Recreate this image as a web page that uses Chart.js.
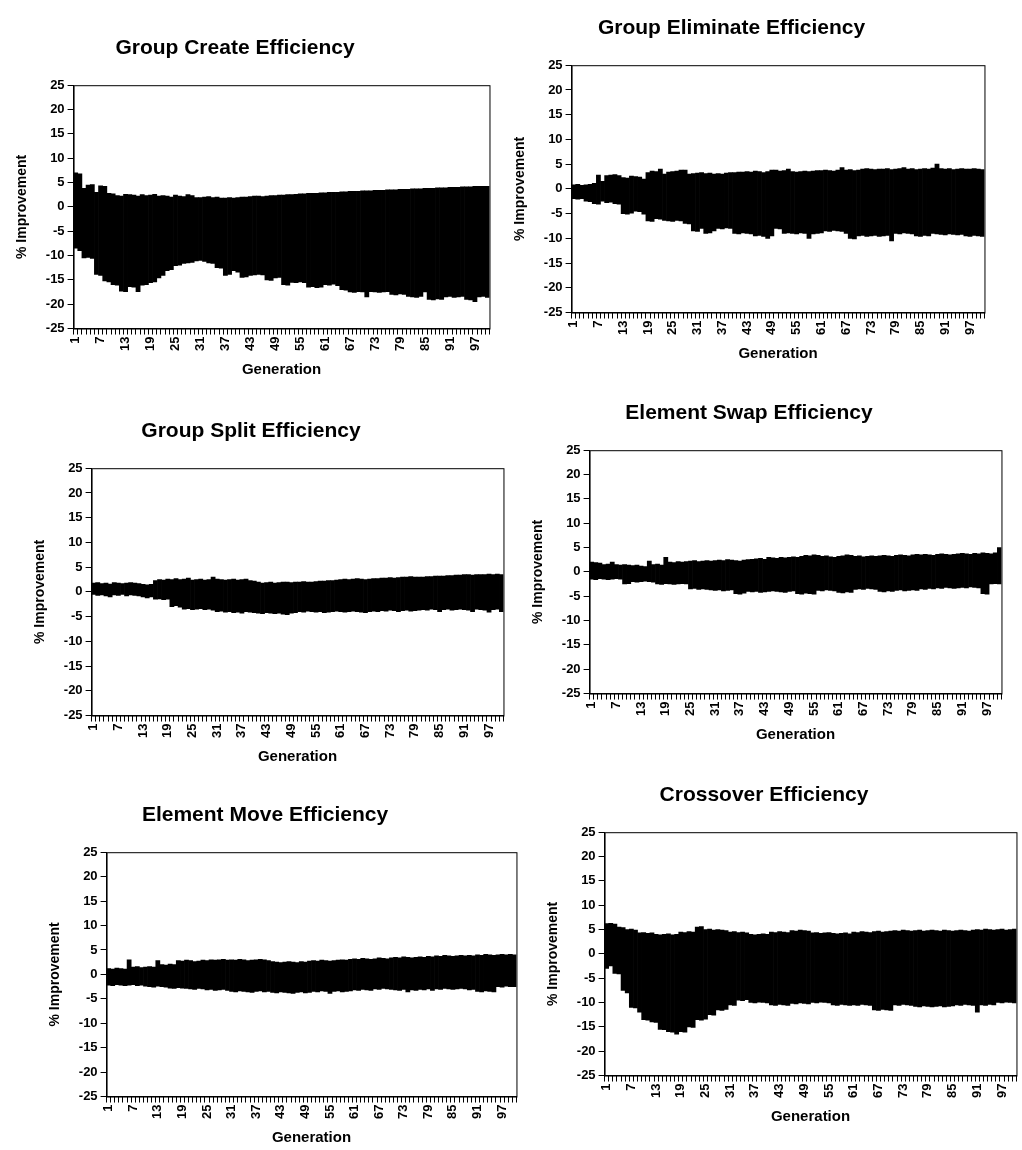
<!DOCTYPE html>
<html>
<head>
<meta charset="utf-8">
<script src="https://cdn.jsdelivr.net/npm/chart.js@4.4.1/dist/chart.umd.min.js"></script>
<style>
  body { margin: 0; background: #fff; width: 1022px; height: 1150px; position: relative; overflow: hidden; }
  .panel { position: absolute; }
</style>
</head>
<body>
<div class="panel" style="left:-35px;top:26px;width:540px;height:366px"><canvas id="c1"></canvas></div>
<div class="panel" style="left:463px;top:6px;width:537px;height:370px"><canvas id="c2"></canvas></div>
<div class="panel" style="left:-17px;top:409px;width:536px;height:370px"><canvas id="c3"></canvas></div>
<div class="panel" style="left:481px;top:391px;width:536px;height:366px"><canvas id="c4"></canvas></div>
<div class="panel" style="left:-2px;top:793px;width:534px;height:367px"><canvas id="c5"></canvas></div>
<div class="panel" style="left:496px;top:773px;width:536px;height:366px"><canvas id="c6"></canvas></div>
<script>
// generations on the x axis
const generations = [
  1,2,3,4,5,6,7,8,9,10,11,12,13,14,15,16,17,18,19,20,
  21,22,23,24,25,26,27,28,29,30,31,32,33,34,35,36,37,38,39,40,
  41,42,43,44,45,46,47,48,49,50,51,52,53,54,55,56,57,58,59,60,
  61,62,63,64,65,66,67,68,69,70,71,72,73,74,75,76,77,78,79,80,
  81,82,83,84,85,86,87,88,89,90,91,92,93,94,95,96,97,98,99,100
];
const xTickLabels = [1,7,13,19,25,31,37,43,49,55,61,67,73,79,85,91,97];
const yTickValues = [-25,-20,-15,-10,-5,0,5,10,15,20,25];

// Group Create
const createHigh = [
  7,6.8,3.8,4.5,4.6,3,4.3,4.2,2.8,2.7,
  2.3,2.2,2.6,2.5,2.4,2.2,2.5,2.3,2.4,2.6,
  2.2,2.3,2.2,2.0,2.4,2.2,2.1,2.5,2.3,1.9,
  1.9,2.0,2.1,1.9,2.0,1.8,1.8,1.9,1.8,1.9,
  2.0,2.0,2.1,2.2,2.2,2.1,2.2,2.3,2.3,2.4,
  2.4,2.5,2.5,2.6,2.7,2.7,2.8,2.8,2.8,2.9,
  2.9,3.0,3.0,3.0,3.1,3.1,3.2,3.2,3.2,3.3,
  3.3,3.3,3.4,3.4,3.4,3.5,3.5,3.5,3.6,3.6,
  3.6,3.7,3.7,3.7,3.8,3.8,3.8,3.9,3.9,3.9,
  4.0,4.0,4.0,4.1,4.1,4.1,4.2,4.2,4.2,4.2
];
const createLow = [
  -8.5,-9,-10.5,-10.4,-10.6,-13.9,-14.1,-15.2,-15.4,-16,
  -16.1,-17.3,-17.4,-16.4,-16.5,-17.4,-16.1,-16.0,-15.6,-15.4,
  -14.6,-14.1,-13.1,-12.9,-12.1,-12.0,-11.6,-11.5,-11.4,-11.1,
  -11.0,-11.2,-11.5,-11.6,-12.5,-12.6,-14.1,-13.9,-13.1,-13.4,
  -14.5,-14.4,-14.1,-14.0,-13.9,-14.0,-15.0,-15.1,-14.6,-14.5,
  -16.0,-16.1,-15.5,-15.6,-15.4,-15.6,-16.5,-16.4,-16.6,-16.5,
  -16.0,-16.1,-15.9,-16.2,-17.0,-17.1,-17.5,-17.6,-17.4,-17.5,
  -18.5,-17.4,-17.5,-17.6,-17.5,-17.4,-18.0,-18.1,-17.9,-18.0,
  -18.4,-18.5,-18.6,-18.4,-17.5,-19.0,-19.1,-18.9,-19.0,-18.5,
  -18.4,-18.6,-18.5,-18.4,-19.0,-19.1,-19.5,-18.5,-18.4,-18.6
];

// Group Eliminate
const eliminateHigh = [
  0.8,0.9,0.7,0.8,0.9,1.1,2.8,1.5,2.7,2.8,
  2.9,2.7,2.3,2.2,2.6,2.5,2.4,2.0,3.3,3.6,
  3.5,4.0,3.0,3.4,3.5,3.6,3.8,3.8,3.0,3.1,
  3.2,3.3,3.1,3.2,3.0,3.1,3.0,3.2,3.3,3.3,
  3.4,3.4,3.5,3.4,3.6,3.5,3.3,3.5,3.8,3.8,
  3.6,3.7,4.0,3.5,3.4,3.5,3.6,3.5,3.6,3.7,
  3.7,3.8,3.7,3.6,3.8,4.3,3.8,3.9,3.7,3.8,
  4.0,4.1,4.0,3.9,4.0,4.0,4.1,3.9,4.0,4.1,
  4.3,4.0,4.1,3.9,4.0,4.1,4.0,4.2,5.0,4.1,
  4.0,4.1,3.9,4.0,4.1,4.0,4.0,4.1,4.0,3.9
];
const eliminateLow = [
  -2.0,-2.1,-2.0,-2.5,-2.6,-3.0,-3.1,-2.5,-2.8,-2.7,
  -3.0,-3.1,-5.0,-5.1,-4.9,-4.5,-4.6,-5.1,-6.5,-6.6,
  -6.0,-6.1,-6.4,-6.5,-6.6,-6.4,-6.5,-7.0,-7.1,-8.5,
  -8.6,-8.0,-9.0,-8.9,-8.5,-8.0,-8.1,-7.9,-8.0,-9.0,
  -9.1,-8.9,-9.0,-9.1,-9.5,-9.4,-9.6,-10.0,-9.5,-8.0,
  -8.1,-9.0,-8.9,-9.0,-9.1,-8.9,-9.0,-10.0,-9.1,-9.0,
  -8.9,-8.5,-8.6,-8.4,-8.5,-8.6,-9.0,-10.0,-10.1,-9.5,
  -9.4,-9.6,-9.5,-9.4,-9.6,-9.5,-9.4,-10.5,-9.0,-9.1,
  -8.9,-9.0,-9.1,-9.5,-9.6,-9.4,-9.5,-9.0,-9.1,-9.2,
  -9.3,-9.1,-9.2,-9.3,-9.2,-9.5,-9.6,-9.4,-9.5,-9.6
];

// Group Split
const splitHigh = [
  1.8,1.9,1.7,1.8,1.6,1.9,1.8,1.7,1.8,1.9,
  1.8,1.7,1.5,1.4,1.5,2.3,2.5,2.4,2.6,2.5,
  2.7,2.5,2.6,2.8,2.4,2.5,2.6,2.4,2.5,3.0,
  2.6,2.5,2.4,2.5,2.6,2.4,2.5,2.6,2.3,2.2,
  2.0,1.8,1.9,2.0,1.8,1.9,2.0,2.0,1.9,2.0,
  2.0,2.1,2.0,2.0,2.1,2.2,2.2,2.3,2.3,2.4,
  2.5,2.6,2.5,2.6,2.7,2.6,2.5,2.6,2.7,2.7,
  2.8,2.8,2.9,2.8,2.9,3.0,3.0,3.1,3.0,3.0,
  3.0,3.1,3.1,3.2,3.2,3.2,3.3,3.3,3.4,3.4,
  3.5,3.5,3.4,3.5,3.5,3.5,3.6,3.5,3.6,3.5
];
const splitLow = [
  -0.5,-0.7,-0.6,-0.8,-1.0,-0.6,-0.7,-0.5,-0.8,-0.6,
  -0.7,-0.8,-1.0,-1.2,-1.0,-1.5,-1.4,-1.6,-1.5,-3.0,
  -2.8,-3.1,-3.5,-3.4,-3.6,-3.5,-3.4,-3.6,-3.5,-3.7,
  -4.0,-3.9,-4.1,-4.0,-4.2,-4.1,-4.3,-4.0,-4.1,-4.2,
  -4.3,-4.4,-4.2,-4.3,-4.4,-4.3,-4.5,-4.6,-4.3,-4.2,
  -4.0,-4.1,-3.9,-4.0,-4.1,-4.0,-4.2,-4.1,-4.0,-3.9,
  -4.0,-4.1,-4.0,-3.9,-4.0,-4.1,-4.2,-4.0,-3.9,-4.0,
  -3.8,-3.9,-3.7,-3.8,-4.0,-3.8,-3.7,-3.9,-3.8,-3.7,
  -3.6,-3.7,-3.5,-3.6,-4.0,-3.6,-3.5,-3.7,-3.6,-3.5,
  -3.6,-3.7,-4.0,-3.5,-3.6,-3.7,-4.1,-3.6,-3.5,-4.0
];

// Element Swap
const swapHigh = [
  2.0,1.9,1.8,1.5,1.6,2.0,1.5,1.4,1.5,1.4,
  1.3,1.4,1.2,1.1,2.2,1.5,1.6,1.4,3.0,2.0,
  1.9,2.1,2.0,2.1,2.2,2.3,2.1,2.2,2.3,2.2,
  2.3,2.4,2.3,2.5,2.4,2.3,2.2,2.4,2.5,2.6,
  2.7,2.8,2.6,3.0,2.9,2.8,3.0,2.9,3.0,3.1,
  3.0,3.2,3.4,3.3,3.5,3.4,3.2,3.3,3.1,3.0,
  3.2,3.3,3.5,3.4,3.2,3.3,3.1,3.2,3.3,3.2,
  3.3,3.4,3.3,3.2,3.4,3.5,3.4,3.3,3.5,3.6,
  3.5,3.6,3.5,3.4,3.6,3.7,3.6,3.5,3.6,3.7,
  3.8,3.7,3.6,3.8,3.7,3.9,3.8,3.7,3.9,5.0
];
const swapLow = [
  -1.5,-1.6,-1.4,-1.5,-1.6,-1.5,-1.4,-1.5,-2.5,-2.4,
  -2.0,-2.1,-2.0,-1.9,-2.0,-2.1,-2.5,-2.6,-2.4,-2.5,
  -2.6,-2.5,-2.4,-2.5,-3.5,-3.4,-3.6,-3.5,-3.6,-3.7,
  -3.8,-3.7,-3.9,-3.8,-3.7,-4.5,-4.6,-4.4,-4.0,-4.1,
  -4.0,-4.2,-4.1,-4.0,-3.9,-4.0,-4.1,-4.2,-4.0,-3.9,
  -4.5,-4.6,-4.4,-4.5,-4.6,-3.8,-3.9,-3.7,-3.8,-3.9,
  -4.2,-4.3,-4.1,-4.2,-3.6,-3.5,-3.6,-3.4,-3.5,-3.6,
  -4.0,-4.1,-3.9,-4.0,-3.8,-3.7,-3.9,-3.8,-3.7,-3.8,
  -3.5,-3.6,-3.4,-3.5,-3.3,-3.4,-3.2,-3.3,-3.4,-3.3,
  -3.2,-3.3,-3.1,-3.2,-3.3,-4.5,-4.6,-2.5,-2.4,-2.5
];

// Element Move
const moveHigh = [
  1.2,1.1,1.3,1.2,1.1,3.0,1.5,1.6,1.4,1.5,
  1.6,1.5,2.8,2.0,1.9,2.1,2.0,2.8,2.7,2.9,
  2.8,2.6,2.7,2.9,2.8,3.0,2.9,3.0,3.1,2.9,
  3.0,2.9,3.1,3.0,2.8,2.9,3.0,3.1,3.0,2.8,
  2.6,2.5,2.4,2.5,2.6,2.5,2.4,2.6,2.5,2.7,
  2.8,2.7,2.9,2.8,2.7,2.8,2.9,3.0,2.9,3.1,
  3.2,3.1,3.3,3.2,3.1,3.2,3.4,3.3,3.2,3.4,
  3.5,3.4,3.6,3.5,3.4,3.5,3.6,3.5,3.7,3.6,
  3.8,3.7,3.9,3.8,3.7,3.8,3.9,3.8,3.9,3.8,
  4.0,3.9,4.1,4.0,3.9,4.0,4.1,4.0,4.1,4.0
];
const moveLow = [
  -2.2,-2.3,-2.1,-2.2,-2.3,-2.2,-2.1,-2.3,-2.2,-2.4,
  -2.5,-2.6,-2.4,-2.5,-2.6,-2.8,-2.9,-2.7,-2.8,-2.9,
  -3.0,-3.1,-2.9,-3.0,-3.2,-3.1,-3.3,-3.2,-3.1,-3.3,
  -3.5,-3.6,-3.4,-3.5,-3.6,-3.7,-3.5,-3.4,-3.6,-3.5,
  -3.7,-3.8,-3.6,-3.7,-3.8,-3.9,-3.7,-3.6,-3.8,-3.7,
  -3.5,-3.6,-3.4,-3.5,-3.9,-3.5,-3.4,-3.6,-3.5,-3.4,
  -3.2,-3.3,-3.1,-3.2,-3.3,-3.0,-3.1,-2.9,-3.0,-3.1,
  -3.2,-3.3,-3.1,-3.6,-3.2,-3.3,-3.1,-3.2,-3.0,-3.3,
  -3.0,-3.1,-2.9,-3.0,-3.1,-3.0,-2.9,-3.0,-3.2,-3.1,
  -3.5,-3.6,-3.4,-3.5,-3.6,-2.5,-2.6,-2.4,-2.5,-2.5
];

// Crossover
const crossoverHigh = [
  6.2,6.3,6.1,5.5,5.4,5.0,5.1,4.9,4.3,4.4,
  4.2,4.3,4.0,3.9,4.0,4.1,3.9,4.0,4.5,4.4,
  4.6,4.5,5.5,5.6,5.0,5.1,4.9,5.0,4.9,4.8,
  4.5,4.6,4.4,4.5,4.3,4.0,3.9,4.0,4.1,4.0,
  4.5,4.4,4.6,4.5,4.4,4.8,4.7,4.9,4.8,4.7,
  4.3,4.4,4.2,4.3,4.4,4.2,4.1,4.2,4.3,4.1,
  4.5,4.4,4.6,4.5,4.4,4.6,4.7,4.5,4.6,4.7,
  4.8,4.7,4.9,4.8,4.7,4.8,4.9,4.7,4.8,4.9,
  4.8,4.7,4.9,4.8,4.7,4.8,4.9,4.8,4.7,4.9,
  5.0,4.9,5.1,5.0,4.9,5.0,5.1,4.9,5.0,5.1
];
const crossoverLow = [
  -3.0,-2.5,-4.0,-4.1,-7.5,-8.0,-11.0,-11.1,-12.0,-13.5,
  -13.6,-14.0,-14.1,-15.5,-15.6,-16.0,-16.1,-16.5,-16.0,-16.1,
  -15.0,-15.1,-13.5,-13.6,-13.4,-12.5,-12.6,-11.5,-11.6,-11.4,
  -10.5,-10.6,-9.5,-9.6,-9.4,-10.0,-10.1,-9.9,-10.0,-10.1,
  -10.5,-10.6,-10.4,-10.5,-10.6,-10.2,-10.3,-10.1,-10.2,-10.3,
  -10.0,-10.1,-9.9,-10.0,-10.1,-10.5,-10.6,-10.4,-10.5,-10.6,
  -10.5,-10.6,-10.4,-10.5,-10.6,-11.5,-11.6,-11.4,-11.5,-11.6,
  -10.5,-10.6,-10.4,-10.5,-10.6,-10.8,-10.9,-10.7,-10.8,-10.9,
  -10.8,-10.7,-10.9,-10.8,-10.7,-10.5,-10.6,-10.4,-10.5,-10.6,
  -12.0,-10.5,-10.6,-10.4,-10.5,-10.0,-10.1,-9.9,-10.0,-10.1
];

const FONT = "'Liberation Sans', Arial, sans-serif";

// draws the closed frame around the plot area
const frame = {
  id: 'frame',
  afterDraw(chart) {
    const a = chart.chartArea;
    const ctx = chart.ctx;
    ctx.save();
    ctx.strokeStyle = '#000';
    ctx.lineWidth = 1;
    ctx.strokeRect(a.left + 0.5, a.top + 0.5, a.right - a.left, a.bottom - a.top);
    ctx.restore();
  }
};

function makeChart(id, title, lows, highs) {
  const ranges = lows.map((lo, i) => [lo, highs[i]]);
  return new Chart(document.getElementById(id), {
    type: 'bar',
    data: {
      labels: generations,
      datasets: [{
        data: ranges,
        backgroundColor: '#000',
        borderWidth: 0,
        barPercentage: 1,
        categoryPercentage: 1
      }]
    },
    options: {
      responsive: true,
      maintainAspectRatio: false,
      animation: false,
      layout: { padding: { top: 4, right: 0, bottom: 0, left: 0 } },
      plugins: {
        legend: { display: false },
        tooltip: { enabled: false },
        title: {
          display: true,
          text: title,
          color: '#000',
          font: { family: FONT, size: 21, weight: 'bold' },
          padding: { top: 6, bottom: 24 }
        }
      },
      scales: {
        x: {
          grid: { display: true, drawOnChartArea: false, color: '#000', tickLength: 6 },
          border: { color: '#000' },
          ticks: {
            autoSkip: false,
            maxRotation: 90,
            minRotation: 90,
            color: '#000',
            padding: 2,
            font: { family: FONT, size: 13, weight: 'bold' },
            callback: function (value) {
              const g = generations[value];
              return xTickLabels.includes(g) ? String(g) : '';
            }
          },
          title: {
            display: true,
            text: 'Generation',
            color: '#000',
            font: { family: FONT, size: 15, weight: 'bold' },
            padding: { top: 8, bottom: 13 }
          }
        },
        y: {
          min: -25,
          max: 25,
          afterBuildTicks: function (axis) {
            axis.ticks = yTickValues.map(v => ({ value: v }));
          },
          grid: { display: true, drawOnChartArea: false, color: '#000', tickLength: 6 },
          border: { color: '#000' },
          ticks: {
            color: '#000',
            padding: 3,
            font: { family: FONT, size: 13, weight: 'bold' }
          },
          title: {
            display: true,
            text: '% Improvement',
            color: '#000',
            font: { family: FONT, size: 14, weight: 'bold' },
            padding: { top: 49, bottom: 12 }
          }
        }
      }
    },
    plugins: [frame]
  });
}

makeChart('c1', 'Group Create Efficiency', createLow, createHigh);
makeChart('c2', 'Group Eliminate Efficiency', eliminateLow, eliminateHigh);
makeChart('c3', 'Group Split Efficiency', splitLow, splitHigh);
makeChart('c4', 'Element Swap Efficiency', swapLow, swapHigh);
makeChart('c5', 'Element Move Efficiency', moveLow, moveHigh);
makeChart('c6', 'Crossover Efficiency', crossoverLow, crossoverHigh);
</script>
</body>
</html>
